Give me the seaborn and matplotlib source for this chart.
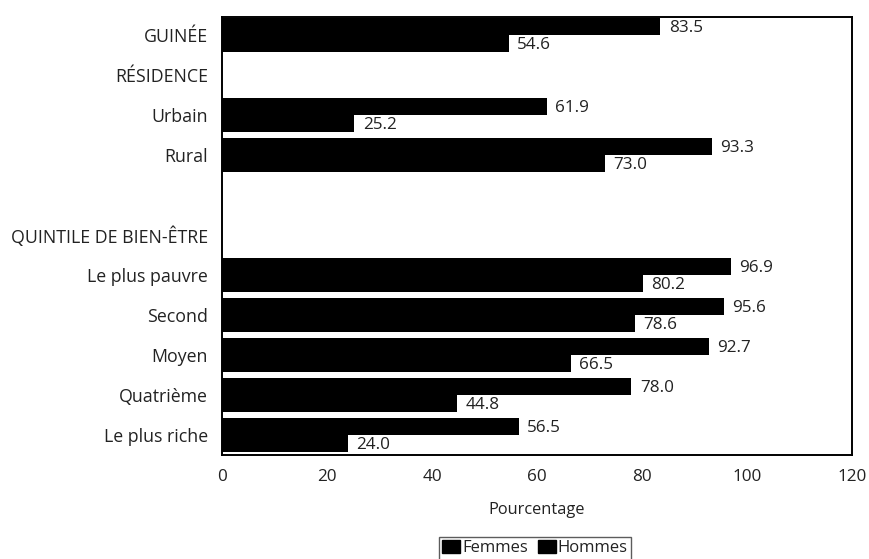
import numpy as np
import pandas as pd
import matplotlib
matplotlib.use("Agg")
import matplotlib.pyplot as plt
import seaborn as sns

# Row labels, top to bottom (headings and spacer rows carry no values)
categories = ["GUINÉE", "RÉSIDENCE", "Urbain", "Rural", " ",
              "QUINTILE DE BIEN-ÊTRE", "Le plus pauvre", "Second",
              "Moyen", "Quatrième", "Le plus riche"]
femmes = [83.5, np.nan, 61.9, 93.3, np.nan, np.nan, 96.9, 95.6, 92.7, 78.0, 56.5]
hommes = [54.6, np.nan, 25.2, 73.0, np.nan, np.nan, 80.2, 78.6, 66.5, 44.8, 24.0]
series = ["Femmes", "Hommes"]
x_ticks = [0, 20, 40, 60, 80, 100, 120]

df = pd.DataFrame({
    "cat": categories * 2,
    "val": femmes + hommes,
    "sexe": [series[0]] * len(categories) + [series[1]] * len(categories),
})

sns.set_style("white")
plt.rcParams["font.family"] = ["Open Sans", "DejaVu Sans"]
FS = 12.3
TXT = "#222222"

fig = plt.figure(figsize=(8.7, 5.59), dpi=100)
ax = fig.add_axes([222 / 870, 1 - 455 / 559, 630 / 870, 438 / 559])

sns.barplot(data=df, y="cat", x="val", hue="sexe", order=categories,
            hue_order=series, palette=["black", "black"], orient="h",
            width=0.85, saturation=1, edgecolor="none", legend=False, ax=ax)

ax.set_xlim(0, 120)
ax.set_ylim(10.5, -0.45)
ax.set_xticks(x_ticks)
ax.set_xticklabels([str(t) for t in x_ticks])
ax.tick_params(axis="both", length=0, labelsize=FS, colors=TXT)
ax.tick_params(axis="y", labelsize=12.8)
ax.tick_params(axis="x", pad=10)
ax.tick_params(axis="y", pad=10)
ax.set_ylabel("")
ax.set_xlabel("Pourcentage", fontsize=11.8, color=TXT, labelpad=12)
for s in ax.spines.values():
    s.set_visible(True)
    s.set_color("black")
    s.set_linewidth(1.4)

# Value labels beside each bar, on a small white patch
for cont in ax.containers:
    for bar in cont:
        w = bar.get_width()
        if not np.isfinite(w) or w == 0:
            continue
        yc = bar.get_y() + bar.get_height() / 2
        ax.annotate(f"{w:.1f}", xy=(w, yc), xytext=(6, -1.2),
                    textcoords="offset points", ha="left", va="center",
                    fontsize=FS, color=TXT,
                    bbox=dict(facecolor="white", edgecolor="none", pad=0.6))

handles = [plt.Rectangle((0, 0), 1, 1, color="black") for _ in series]
leg = fig.legend(handles, series, loc="upper center",
                 bbox_to_anchor=(535 / 870, 1 - 537 / 559), ncol=2,
                 frameon=True, fancybox=False, fontsize=12,
                 handlelength=1.1, handleheight=0.8, handletextpad=0.1,
                 columnspacing=0.6, borderpad=0.2, borderaxespad=0)
leg.get_frame().set_edgecolor("#333333")
leg.get_frame().set_linewidth(1.0)
for t in leg.get_texts():
    t.set_color(TXT)

fig.savefig("out.png", dpi=100)
